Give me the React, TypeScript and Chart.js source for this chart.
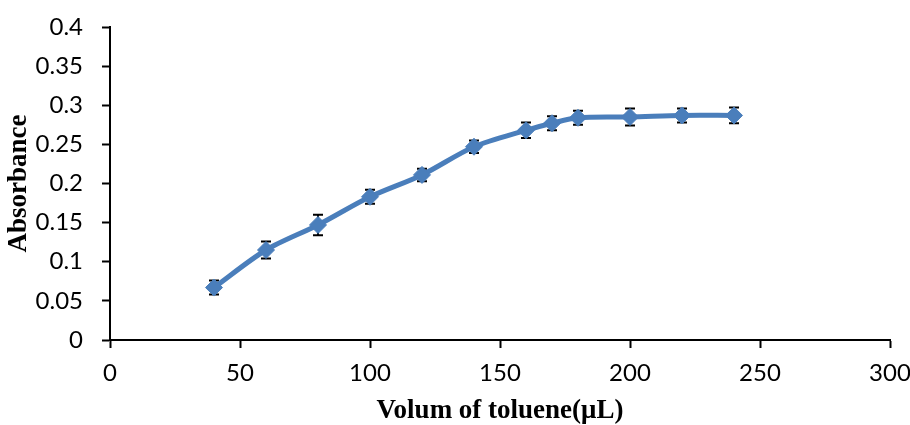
import React, { useEffect, useRef } from "react";
import { Chart, registerables } from "chart.js";

Chart.register(...registerables);

// Toluene volume (µL) against measured absorbance, with standard deviations
const volumes = [40, 60, 80, 100, 120, 140, 160, 170, 180, 200, 220, 240];
const absorbance = [0.067, 0.115, 0.147, 0.183, 0.211, 0.247, 0.268, 0.277, 0.284, 0.285, 0.287, 0.287];
const errors = [0.009, 0.011, 0.013, 0.009, 0.008, 0.008, 0.010, 0.009, 0.009, 0.011, 0.009, 0.010];

const xTicks = [0, 50, 100, 150, 200, 250, 300];
const yTicks = ["0", "0.05", "0.1", "0.15", "0.2", "0.25", "0.3", "0.35", "0.4"];

const BLUE = "#4A7EBB";

// Draws vertical error bars with caps under the line and markers
const errorBarPlugin = {
  id: "errorBars",
  beforeDatasetsDraw(chart: any) {
    const { ctx, scales } = chart;
    const xs = scales.x;
    const ys = scales.y;
    ctx.save();
    ctx.strokeStyle = "#000";
    ctx.lineWidth = 2;
    volumes.forEach((v, i) => {
      const px = xs.getPixelForValue(v);
      const top = ys.getPixelForValue(absorbance[i] + errors[i]);
      const bot = ys.getPixelForValue(absorbance[i] - errors[i]);
      ctx.beginPath();
      ctx.moveTo(px, top);
      ctx.lineTo(px, bot);
      ctx.moveTo(px - 5, top);
      ctx.lineTo(px + 5, top);
      ctx.moveTo(px - 5, bot);
      ctx.lineTo(px + 5, bot);
      ctx.stroke();
    });
    ctx.restore();
  },
};

export default function App() {
  const canvasRef = useRef<HTMLCanvasElement | null>(null);

  useEffect(() => {
    if (!canvasRef.current) return;
    const chart = new Chart(canvasRef.current, {
      type: "scatter",
      data: {
        datasets: [
          {
            data: volumes.map((v, i) => ({ x: v, y: absorbance[i] })),
            showLine: true,
            borderColor: BLUE,
            backgroundColor: BLUE,
            borderWidth: 5,
            tension: 0.3,
            pointStyle: "rectRot",
            pointRadius: 8.5,
            pointBackgroundColor: BLUE,
            pointBorderColor: BLUE,
            pointBorderWidth: 1,
          },
        ],
      },
      options: {
        animation: false,
        responsive: false,
        maintainAspectRatio: false,
        layout: { padding: { top: 27, right: 0, left: 0, bottom: 0 } },
        plugins: {
          legend: { display: false },
          tooltip: { enabled: false },
        },
        scales: {
          x: {
            type: "linear",
            min: 0,
            max: 300,
            afterBuildTicks(scale: any) {
              scale.ticks = xTicks.map((v) => ({ value: v }));
            },
            afterFit(scale: any) {
              scale.height = 85;
              scale.paddingRight = 20;
              scale.paddingLeft = 0;
            },
            ticks: {
              color: "#000",
              font: { family: "Lato", size: 24 },
              padding: 11,
              maxRotation: 0,
              callback: (v: any) => String(v),
            },
            grid: {
              drawOnChartArea: false,
              drawTicks: true,
              tickLength: 8,
              tickColor: "#000",
              tickWidth: 2,
            },
            border: { color: "#000", width: 2 },
            title: {
              display: true,
              text: "Volum of toluene(μL)",
              color: "#000",
              font: { family: "Liberation Serif", size: 27, weight: "bold", lineHeight: 1 },
              padding: { top: 0, bottom: 0 },
            },
          },
          y: {
            min: 0,
            max: 0.4,
            afterBuildTicks(scale: any) {
              scale.ticks = yTicks.map((t) => ({ value: parseFloat(t) }));
            },
            afterFit(scale: any) {
              scale.width = 110;
              scale.paddingTop = 0;
              scale.paddingBottom = 0;
            },
            ticks: {
              color: "#000",
              font: { family: "Lato", size: 24 },
              padding: 19,
              callback: (v: any) => {
                const idx = yTicks.findIndex((t) => Math.abs(parseFloat(t) - v) < 1e-9);
                return idx >= 0 ? yTicks[idx] : "";
              },
            },
            grid: {
              drawOnChartArea: false,
              drawTicks: true,
              tickLength: 8,
              tickColor: "#000",
              tickWidth: 2,
            },
            border: { color: "#000", width: 2 },
            title: {
              display: true,
              text: "Absorbance",
              color: "#000",
              font: { family: "Liberation Serif", size: 27, weight: "bold", lineHeight: 1 },
              padding: { top: 6, bottom: 0 },
            },
          },
        },
      },
      plugins: [errorBarPlugin],
    } as any);
    return () => chart.destroy();
  }, []);

  return (
    <div style={{ position: "fixed", left: 0, top: 0, width: 910, height: 425, background: "#fff" }}>
      <canvas ref={canvasRef} width={910} height={425} style={{ display: "block" }} />
    </div>
  );
}
